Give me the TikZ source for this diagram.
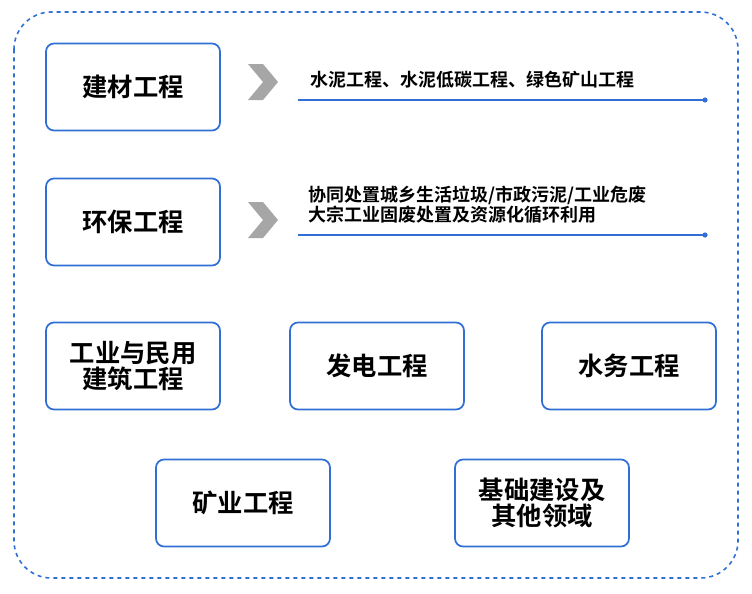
\documentclass[tikz,border=0pt]{standalone}
\usepackage{fontspec}
\setmainfont{Noto Sans CJK SC}[BoldFont={* Bold}]
\usetikzlibrary{positioning}
\definecolor{frameblue}{HTML}{2F6FD6}
\definecolor{chevgray}{HTML}{A6A6A6}
\tikzset{
  field/.style={draw=frameblue,line width=1.3pt,rounded corners=6pt,fill=white,
    minimum width=174\pxu,minimum height=87\pxu,align=center,
    font=\bfseries\fontsize{19}{21}\selectfont},
  detail/.style={font=\bfseries\fontsize{13.5}{15}\selectfont,align=left,inner sep=0pt},
  chev/.style={fill=chevgray,draw=none}
}
\newlength{\pxu}\setlength{\pxu}{0.75pt}
\begin{document}
\begin{tikzpicture}[x=0.75pt,y=-0.75pt]
  \useasboundingbox (0,0) rectangle (752,593);
  \draw[frameblue,line width=1.2pt,dashed,rounded corners=28pt] (14,12) rectangle (738,578);

  \node[field] (jc) at (133,87)  {建材工程};
  \node[field] (hb) at (133,222) {环保工程};
  \node[field] (gy) at (133,366) {工业与民用\\[-2pt]建筑工程};
  \node[field] (fd) at (377,366) {发电工程};
  \node[field] (sw) at (629,366) {水务工程};
  \node[field] (ky) at (243,503) {矿业工程};
  \node[field] (jj) at (542,503) {基础建设及\\[-2pt]其他领域};

  % chevrons
  \foreach \y in {82,220}
    \fill[chev] (248,\y-18) -- (263,\y-18) -- (278,\y) -- (263,\y+18) -- (248,\y+18) -- (263,\y) -- cycle;

  \coordinate (l1a) at (298,100);
  \coordinate (l1b) at (705,100);
  \coordinate (l2a) at (298,235);
  \coordinate (l2b) at (705,235);
  \draw[frameblue,line width=1pt] (l1a) -- (l1b);
  \fill[frameblue] (l1b) circle (2.6);
  \draw[frameblue,line width=1pt] (l2a) -- (l2b);
  \fill[frameblue] (l2b) circle (2.6);

  \node[detail,anchor=west] (t1) at (310,80) {水泥工程、水泥低碳工程、绿色矿山工程};
  \node[detail,anchor=west] (t2) at (308,205) {协同处置城乡生活垃圾/市政污泥/工业危废\\大宗工业固废处置及资源化循环利用};
\end{tikzpicture}
\end{document}
